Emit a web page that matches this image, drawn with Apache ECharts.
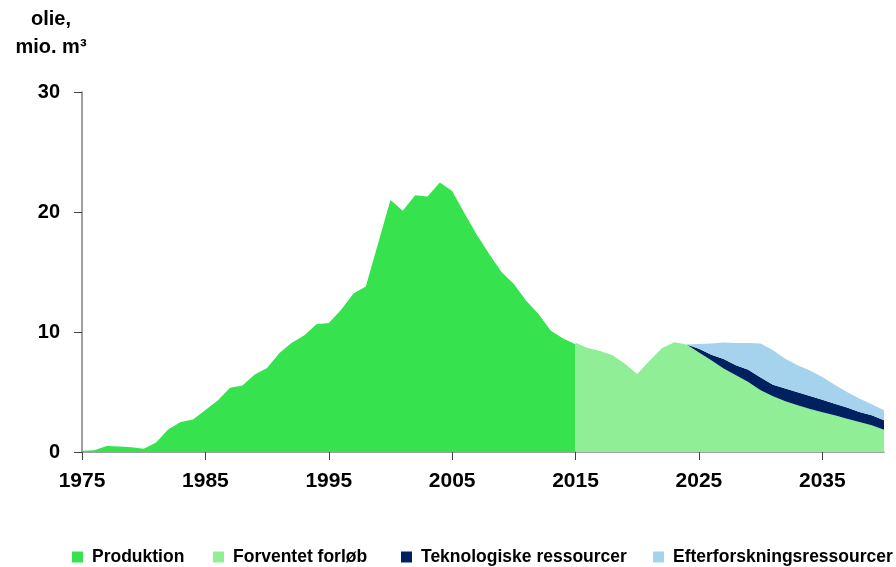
<!DOCTYPE html>
<html>
<head>
<meta charset="utf-8">
<script src="https://cdn.jsdelivr.net/npm/echarts@6/dist/echarts.min.js"></script>
<style>
html,body{margin:0;padding:0;background:#fff;}
#c{width:896px;height:567px;}
</style>
</head>
<body>
<div id="c"></div>
<script>
// Years 1975..2040
var years = [];
for (var y = 1975; y <= 2040; y++) years.push(String(y));

// Produktion 1975-2015
var produktion = [0.1,0.15,0.5,0.45,0.4,0.28,0.8,1.9,2.5,2.7,
  3.5,4.3,5.35,5.55,6.45,7.0,8.25,9.1,9.7,10.65,
  10.75,11.85,13.2,13.8,17.4,21.0,20.1,21.4,21.3,22.45,
  21.75,19.9,18.1,16.5,15.0,14.0,12.6,11.5,10.1,9.45,
  8.97];

// Forventet forløb 2015-2040
var forventet = [9.1,8.67,8.42,8.06,7.36,6.5,7.6,8.65,9.15,8.95,
  8.3,7.65,6.95,6.4,5.83,5.14,4.64,4.22,3.89,3.58,
  3.31,3.06,2.78,2.5,2.22,1.86];

// Teknologiske ressourcer 2024-2040
var teknologiske = [0,0.3,0.45,0.8,0.82,1.03,1.06,0.96,1.08,1.08,
  1.09,1.05,0.97,0.92,0.83,0.84,0.78];

// Efterforskningsressourcer 2024-2040
var efterforskning = [0,0.4,0.95,1.38,1.86,2.22,2.85,2.87,2.48,2.25,
  2.13,1.89,1.57,1.3,1.12,0.91,0.83];

var seriesNames = ['Produktion','Forventet forløb','Teknologiske ressourcer','Efterforskningsressourcer'];
var yTicks = [0,10,20,30];

function pad(arr, startYear) {
  var out = [];
  for (var i = 0; i < years.length; i++) {
    var yr = 1975 + i;
    var k = yr - startYear;
    out.push(k >= 0 && k < arr.length ? arr[k] : null);
  }
  return out;
}

var FONT = 'Liberation Sans, Arial, sans-serif';
var chart = echarts.init(document.getElementById('c'));

function areaSeries(name, data, color, stack) {
  return {
    name: name, type: 'line', data: data, stack: stack,
    symbol: 'none', smooth: false,
    lineStyle: {width: 0, color: color},
    itemStyle: {color: color},
    areaStyle: {color: color, opacity: 1},
    emphasis: {disabled: true},
    connectNulls: false
  };
}

var legendLefts = [72, 213, 401, 653];
var legends = seriesNames.map(function (n, i) {
  return {
    data: [n], left: legendLefts[i], top: 548, padding: 0,
    icon: 'rect', itemWidth: 11, itemHeight: 11,
    textStyle: {fontFamily: FONT, fontWeight: 'bold', fontSize: 17.5, color: '#000', padding: [0,0,0,4]}
  };
});

chart.setOption({
  animation: false,
  backgroundColor: '#ffffff',
  title: {
    text: 'olie,\nmio. m³',
    left: 51, top: 5, textAlign: 'center', padding: 0,
    textStyle: {fontFamily: FONT, fontWeight: 'bold', fontSize: 20, color: '#000', lineHeight: 28, align: 'center'}
  },
  legend: legends,
  grid: {left: 82, right: 12, top: 92, bottom: 115, containLabel: false},
  xAxis: {
    type: 'category', data: years, boundaryGap: false,
    axisLine: {lineStyle: {color: '#808080', width: 1.5}},
    axisTick: {interval: 9, length: 8, lineStyle: {color: '#404040'}},
    axisLabel: {interval: 9, margin: 19, fontFamily: FONT, fontWeight: 'bold', fontSize: 21, color: '#000'},
    splitLine: {show: false}
  },
  yAxis: {
    type: 'value', min: yTicks[0], max: yTicks[yTicks.length-1], interval: 10,
    axisLine: {show: true, lineStyle: {color: '#808080', width: 1.5}},
    axisTick: {show: true, length: 8, lineStyle: {color: '#404040'}},
    axisLabel: {margin: 22, fontFamily: FONT, fontWeight: 'bold', fontSize: 20, color: '#000'},
    splitLine: {show: false}
  },
  series: [
    areaSeries(seriesNames[0], pad(produktion, 1975), '#36E34E', 'p'),
    areaSeries(seriesNames[1], pad(forventet, 2015), '#90EE96', 'f'),
    areaSeries(seriesNames[2], pad(teknologiske, 2024), '#00215F', 'f'),
    areaSeries(seriesNames[3], pad(efterforskning, 2024), '#A5D2EC', 'f')
  ]
});
</script>
</body>
</html>
